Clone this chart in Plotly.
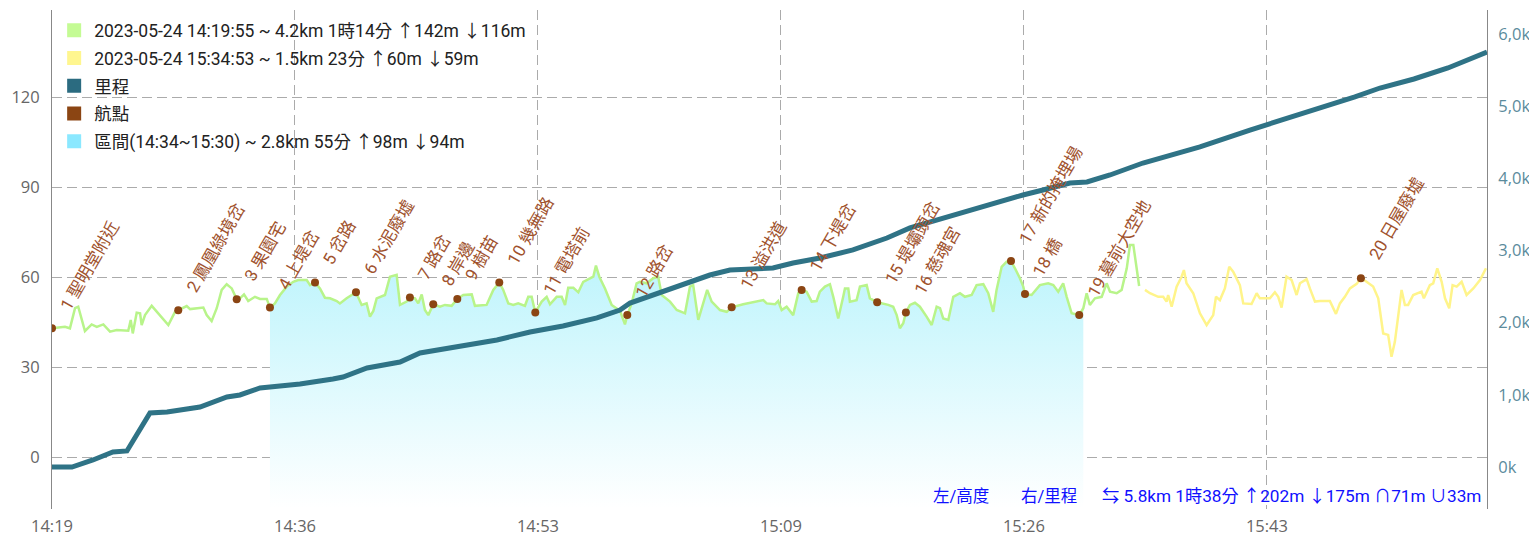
import pandas as pd
import plotly.graph_objects as go

START = pd.Timestamp("2023-05-24 14:19:55")

# elevation track 1 (green): minutes after START, metres
trk1_min = [0.00, 0.89, 1.23, 1.58, 1.80, 2.04, 2.26, 2.72, 3.07, 3.52, 3.75, 3.98, 4.44, 5.23, 5.40,
            5.54, 5.81, 6.04, 6.15, 6.38, 6.84, 7.41, 7.98, 8.44, 8.66, 9.24, 9.47, 10.38, 10.61, 10.95,
            11.30, 11.64, 11.98, 12.33, 12.67, 12.89, 13.17, 13.46, 13.92, 14.27, 14.73, 14.95, 15.29,
            15.64, 16.10, 16.55, 16.89, 17.47, 17.70, 18.04, 18.38, 18.72, 19.07, 19.53, 19.75, 20.21,
            20.85, 21.24, 21.58, 21.81, 22.04, 22.27, 22.84, 23.18, 23.64, 23.87, 24.33, 24.55, 24.90,
            25.12, 25.36, 25.58, 25.81, 26.15, 26.61, 26.95, 27.41, 27.80, 28.21, 28.79, 29.01, 29.81,
            30.27, 30.68, 30.95, 31.30, 31.64, 31.98, 32.44, 32.67, 32.90, 33.15, 33.59, 33.93, 34.16,
            34.62, 34.96, 35.19, 35.41, 35.76, 36.10, 36.44, 37.13, 37.31, 37.54, 37.93, 38.39, 38.96,
            39.30, 39.46, 39.76, 40.10, 40.33, 40.79, 41.24, 41.58, 41.82, 42.39, 42.85, 43.42, 43.76,
            43.98, 44.33, 44.67, 44.94, 45.25, 45.82, 46.28, 46.62, 47.41, 48.79, 49.02, 49.59, 49.81,
            50.05, 50.39, 50.84, 51.19, 51.42, 51.76, 52.11, 52.45, 52.67, 53.02, 53.36, 53.59, 53.93,
            54.27, 54.39, 54.62, 54.73, 55.19, 55.42, 55.88, 56.10, 56.60, 57.02, 57.36, 57.70, 57.94,
            58.16, 58.39, 58.57, 58.85, 59.19, 59.53, 59.99, 60.34, 60.68, 60.91, 61.13, 61.48, 61.82,
            62.28, 62.62, 63.08, 63.42, 63.88, 64.22, 64.56, 64.79, 65.14, 65.48, 65.78, 66.05, 66.39,
            66.62, 66.74, 67.19, 67.76, 68.33, 68.68, 69.02, 69.36, 69.60, 69.94, 70.46, 70.74, 70.97,
            71.19, 71.54, 72.00, 72.34, 72.57, 73.03, 73.37, 73.72, 73.94, 74.17, 74.40, 74.57]
trk1_ele = [42.9, 43.4, 42.9, 49.6, 50.1, 45.7, 42.0, 44.2, 43.4, 44.2, 42.9, 41.8, 42.3, 42.1, 45.7,
            41.2, 48.1, 47.9, 44.0, 47.3, 50.4, 47.3, 44.0, 48.4, 48.9, 50.3, 49.3, 49.8, 47.3, 45.3,
            49.6, 55.7, 57.6, 56.2, 52.6, 52.9, 54.2, 52.0, 53.4, 52.7, 52.7, 49.8, 51.2,
            54.0, 56.8, 58.4, 59.0, 59.0, 57.3, 58.2, 56.2, 53.1, 52.9, 52.0, 51.2, 52.9,
            54.9, 50.7, 51.2, 46.8, 48.7, 52.9, 54.0, 60.1, 60.7, 50.7, 51.8, 53.2, 52.9,
            51.2, 54.2, 49.0, 47.3, 50.9, 50.1, 50.7, 50.4, 52.7, 54.0, 54.2, 50.4, 50.7,
            55.7, 58.2, 55.7, 51.2, 50.7, 51.2, 50.4, 53.4, 53.4, 48.2, 51.8, 53.4, 50.9,
            53.4, 53.4, 50.7, 56.4, 56.4, 54.9, 58.4, 60.1, 63.8, 60.1, 56.2, 50.7, 48.7,
            44.2, 47.3, 51.2, 57.9, 58.4, 57.9, 59.6, 60.1, 54.0, 51.8, 49.0, 47.9, 56.8,
            57.3, 45.7, 51.2, 55.7, 51.8, 49.0, 48.4, 49.9, 50.9, 52.3, 51.2, 50.9, 52.0,
            49.0, 50.1, 47.3, 54.6, 55.7, 55.1, 51.8, 52.0, 55.1, 56.8, 57.6, 53.4, 46.2,
            53.4, 56.2, 56.2, 51.8, 52.3, 56.8, 57.3, 52.9, 51.6, 51.2, 50.7, 50.1, 47.3,
            42.9, 44.6, 48.2, 50.7, 51.4, 50.1, 46.8, 44.0, 50.1, 49.6, 46.2, 45.7, 53.4,
            54.6, 53.4, 54.0, 57.3, 57.6, 54.6, 48.4, 55.7, 63.4, 65.1, 65.3, 62.9, 59.6,
            56.8, 54.3, 54.0, 57.3, 57.9, 57.3, 55.1, 57.9, 53.4, 47.9, 47.3, 49.6, 54.6,
            50.7, 52.9, 53.4, 57.9, 55.1, 54.6, 55.7, 62.9, 70.7, 70.7, 62.3, 57.0]

# elevation track 2 (yellow)
trk2_min = [74.97, 75.31, 75.88, 76.22, 76.45, 76.56, 76.80, 77.14, 77.48, 77.64, 77.82, 78.28, 78.74,
            79.20, 79.65, 79.84, 80.11, 80.45, 80.75, 81.02, 81.48, 81.71, 82.28, 82.63, 82.85, 83.54,
            83.88, 84.11, 84.34, 84.68, 85.03, 85.37, 85.60, 86.06, 86.28, 86.63, 86.97, 87.65, 88.07,
            88.34, 88.68, 89.03, 89.49, 89.78, 90.17, 90.62, 90.97, 91.31, 91.65, 91.88, 92.11, 92.57,
            92.80, 93.02, 93.37, 93.71, 93.94, 94.10, 94.51, 94.74, 95.02, 95.32, 95.55, 95.84, 96.07,
            96.35, 96.69, 97.03, 97.49, 97.95, 98.36]
trk2_ele = [55.7, 54.6, 53.4, 53.4, 51.8, 54.0, 50.1, 56.8, 60.1, 62.3, 57.9, 54.6, 47.9,
            44.0, 47.3, 53.4, 52.3, 56.2, 63.4, 61.8, 57.3, 51.2, 51.0, 54.6, 52.9, 52.9,
            54.9, 53.4, 49.8, 60.1, 59.0, 54.0, 57.9, 59.3, 56.2, 51.8, 52.0, 52.0, 47.7,
            51.2, 53.4, 56.2, 57.7, 59.6, 58.4, 56.8, 52.9, 41.2, 40.7, 33.4, 38.4, 55.7,
            50.7, 50.7, 54.0, 54.6, 55.1, 52.9, 57.3, 57.9, 62.9, 58.4, 52.9, 49.6, 57.3,
            56.8, 58.4, 54.0, 56.2, 59.0, 62.9]

# cumulative distance (m)
dist_min = [0.00, 1.37, 2.81, 4.18, 5.14, 6.72, 7.89, 10.15, 12.00, 12.89, 14.27, 17.01, 19.27, 19.96,
            21.61, 22.70, 23.87, 25.24, 28.19, 30.52, 32.79, 35.05, 37.38, 38.96, 39.65, 41.22, 43.55,
            45.13, 46.50, 49.45, 50.83, 52.68, 54.94, 57.27, 58.85, 61.11, 63.44, 65.71, 66.60, 67.97,
            69.82, 70.99, 72.57, 74.83, 77.16, 78.74, 82.17, 83.27, 85.60, 87.66, 89.37, 91.09, 93.42,
            95.75, 97.67, 98.43]
dist_m = [0, 0, 97, 208, 222, 748, 762, 831, 970, 998, 1095, 1150, 1219, 1247,
          1372, 1413, 1455, 1580, 1690, 1760, 1871, 1954, 2065, 2175, 2272, 2383, 2550,
          2660, 2730, 2757, 2827, 2896, 3007, 3173, 3312, 3450, 3589, 3727, 3769, 3838,
          3935, 3949, 4046, 4212, 4351, 4434, 4669, 4739, 4877, 5002, 5127, 5251, 5376,
          5529, 5681, 5750]

# waypoints
wpt_min = [0.00, 8.66, 12.67, 14.95, 18.04, 20.85, 24.55, 26.15, 27.80, 30.68,
           33.15, 39.46, 46.62, 51.42, 56.60, 58.57, 65.78, 66.74, 70.46, 89.78]
wpt_ele = [42.9, 48.9, 52.6, 49.8, 58.2, 54.9, 53.2, 50.9, 52.7, 58.2,
           48.2, 47.3, 49.9, 55.7, 51.6, 48.2, 65.3, 54.3, 47.3, 59.6]
wpt_name = ["1 聖明堂附近", "2 鳳凰綠境岔", "3 果園宅", "4 上堤岔", "5 岔路", "6 水泥廢墟",
            "7 路岔", "8 岸邊", "9 樹苗", "10 幾無路", "11 電塔前", "12 路岔", "13 溢洪道",
            "14 下堤岔", "15 堤壩頭岔", "16 慈魂宮", "17 新的掩埋場", "18 橋", "19 墓前大空地",
            "20 日屋廢墟"]

SEL_FROM, SEL_TO = 14.95, 70.74   # selected interval, minutes
Y_MIN, Y_MAX = -17.33, 149
D_MIN, D_MAX = -582, 6332
X_END = 98.43

legend_names = [
    "2023-05-24 14:19:55 ~ 4.2km 1時14分 ↑142m ↓116m",
    "2023-05-24 15:34:53 ~ 1.5km 23分 ↑60m ↓59m",
    "里程",
    "航點",
    "區間(14:34~15:30) ~ 2.8km 55分 ↑98m ↓94m",
]
legend_colors = ["#c4fb94", "#fff68f", "#2b6b80", "#8b4513", "#8be8ff"]

GREEN = "#b8f48a"
YELLOW = "#fff48a"
TEAL = "#2f7386"
BROWN = "#8b4513"
LABEL = "#a0522d"
CJK = "Roboto, Noto Sans CJK TC, sans-serif"


def to_time(mins):
    return [START + pd.Timedelta(minutes=m) for m in mins]


fig = go.Figure()

# highlighted interval fill
sel_min = [m for m in trk1_min if SEL_FROM <= m <= SEL_TO]
sel_ele = [e for m, e in zip(trk1_min, trk1_ele) if SEL_FROM <= m <= SEL_TO]
fig.add_trace(go.Scatter(
    x=to_time([sel_min[0], sel_min[-1]]), y=[Y_MIN, Y_MIN],
    mode="lines", line=dict(width=0), showlegend=False, hoverinfo="skip",
))
fig.add_trace(go.Scatter(
    x=to_time(sel_min), y=sel_ele, mode="lines", line=dict(width=0),
    fill="tonexty",
    fillgradient=dict(type="vertical", start=Y_MIN, stop=66,
                      colorscale=[[0, "rgba(255,255,255,1)"], [1, "#bdf4fc"]]),
    showlegend=False, hoverinfo="skip",
))

fig.add_trace(go.Scatter(x=to_time(trk1_min), y=trk1_ele, mode="lines",
                         line=dict(color=GREEN, width=2.5), showlegend=False))
fig.add_trace(go.Scatter(x=to_time(trk2_min), y=trk2_ele, mode="lines",
                         line=dict(color=YELLOW, width=2.5), showlegend=False))
fig.add_trace(go.Scatter(x=to_time(wpt_min), y=wpt_ele, mode="markers",
                         marker=dict(color=BROWN, size=8), showlegend=False))
fig.add_trace(go.Scatter(x=to_time(dist_min), y=dist_m, mode="lines", yaxis="y2",
                         line=dict(color=TEAL, width=5), showlegend=False))

# legend entries with square swatches
for i, (name, col) in enumerate(zip(legend_names, legend_colors)):
    fig.add_trace(go.Scatter(x=[None], y=[None], mode="markers", name=name,
                             legendgroup=f"g{i}",
                             marker=dict(symbol="square", size=14, color=col)))

# waypoint labels
for m, e, name in zip(wpt_min, wpt_ele, wpt_name):
    fig.add_annotation(x=START + pd.Timedelta(minutes=m), y=e, text=name,
                       textangle=-60, showarrow=False, xanchor="left", yanchor="bottom",
                       xshift=1, yshift=12, font=dict(family=CJK, size=17, color=LABEL))

footer = [("左/高度", 0.6334, "center", 16.5), ("右/里程", 0.6948, "center", 16.5),
          ("⇆ 5.8km 1時38分 ↑202m ↓175m ∩71m ∪33m", 0.9972, "right", 17.2)]
for txt, xp, anc, fs in footer:
    fig.add_annotation(x=xp, y=0.026, xref="paper", yref="paper", text=txt, showarrow=False,
                       xanchor=anc, yanchor="middle", font=dict(family=CJK, size=fs, color="#1010ff"))

# the page body adds an 8px offset, so the figure is sized to end at the window edge
grid = dict(showgrid=True, gridcolor="#ababab", gridwidth=1.3, griddash="10px,5px")
fig.update_layout(
    width=1529, height=528,
    margin=dict(l=44, r=50, t=2, b=27),
    paper_bgcolor="white", plot_bgcolor="white",
    showlegend=True,
    legend=dict(x=0.0015, y=0.995, xanchor="left", yanchor="top", bgcolor="rgba(0,0,0,0)",
                traceorder="grouped", tracegroupgap=2,
                font=dict(family=CJK, size=17.5, color="#222"), itemclick=False),
    xaxis=dict(type="date", range=[START, START + pd.Timedelta(minutes=X_END)],
               tick0=START, dtick=1000 * 1000, tickformat="%H:%M", automargin=False,
               tickfont=dict(family="Open Sans", size=16.5, color="#666"),
               showline=False, zeroline=False, ticks="", ticklabelstandoff=5, **grid),
    yaxis=dict(range=[Y_MIN, Y_MAX], tickvals=[0, 30, 60, 90, 120], automargin=False,
               tickfont=dict(family="Open Sans", size=16.5, color="#666"),
               showline=True, linecolor="#888", linewidth=1, zeroline=False, ticks="",
               ticklabelstandoff=8, **grid),
    yaxis2=dict(range=[D_MIN, D_MAX], overlaying="y", side="right", automargin=False,
                tickvals=[0, 1000, 2000, 3000, 4000, 5000, 6000],
                ticktext=["0k", "1,0k", "2,0k", "3,0k", "4,0k", "5,0k", "6,0k"],
                tickfont=dict(family="Open Sans", size=16.5, color="#5b8b9c"),
                showline=True, linecolor="#888", linewidth=1, showgrid=False, zeroline=False,
                ticks="", ticklabelstandoff=7),
)

fig.write_html("out.html")
